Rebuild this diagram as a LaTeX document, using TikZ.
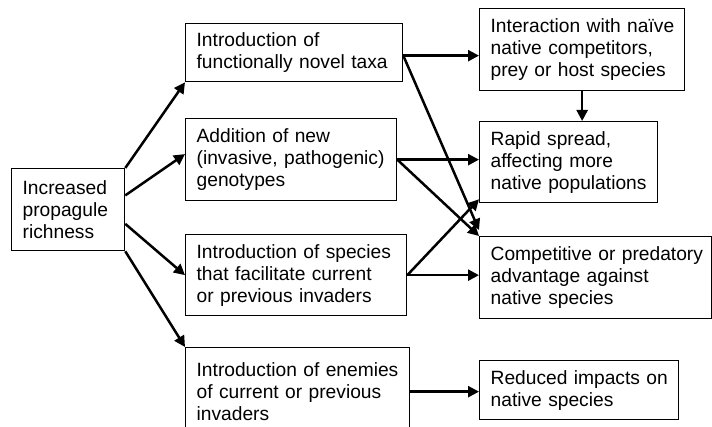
\documentclass[tikz,border=0pt]{standalone}
\usepackage{fontspec}
\setmainfont{Liberation Sans}
\usetikzlibrary{arrows.meta}
\hyphenpenalty=10000
\exhyphenpenalty=10000

\tikzset{
  box/.style={draw,rectangle,line width=1.3pt,anchor=north west,
    inner xsep=11pt,inner ysep=0pt,align=left,
    font=\fontsize{19.2}{22}\selectfont,
    execute at begin node={\rightskip=-20pt plus 1fil}},
  sz/.style 2 args={text width=#1,minimum height=#2},
  arr/.style={line width=2.5pt,-{Triangle[length=11pt,width=11pt]}}
}

\begin{document}
\begin{tikzpicture}[x=1pt,y=-1pt]
      \useasboundingbox (0,0) rectangle (712,427);

      \node [box,sz={91pt}{82pt}] (L) at (11,168) {Increased\\propagule\\richness};

      \node [box,sz={195pt}{58pt}] (T1) at (185,23) {Introduction of\\functionally novel taxa};
      \node [box,sz={189pt}{82pt}] (T2) at (185,118) {Addition of new\\(invasive, pathogenic)\\genotypes};
      \node [box,sz={199pt}{81pt}] (T3) at (185,234) {Introduction of species\\that facilitate current\\or previous invaders};
      \node [box,sz={202pt}{88pt}] (T4) at (185,347) {Introduction of enemies\\of current or previous\\invaders};

      \node [box,sz={183pt}{82pt}] (R1) at (479,8) {Interaction with naïve\\native competitors,\\prey or host species};
      \node [box,sz={156pt}{81pt}] (R2) at (479,121) {Rapid spread,\\affecting more\\native populations};
      \node [box,sz={210pt}{82pt}] (R3) at (479,236) {Competitive or predatory\\advantage against\\native species};
      \node [box,sz={177pt}{59pt}] (R4) at (479,360) {Reduced impacts on\\native species};

      % fan out from propagule richness
      \foreach \from/\to in {L.north east/T1.south west,L.14/T2.177,L.-14/T3.west,L.south east/T4.north west}
        \draw [arr] (\from) -- (\to);

      % horizontal links
      \draw [arr] ([yshift=-3pt]T1.east) -- ([yshift=-3pt]T1.east -| R1.west);
      \draw [arr] (T2.east) -- (T2.east -| R2.west);
      \draw [arr] (T3.east) -- (T3.east -| R3.west);
      \draw [arr] (T4.east) -- (T4.east -| R4.west);
      \draw [arr] (R1.south) -- (R1.south |- R2.north);

      % crossing links
      \draw [arr] ([yshift=-3pt]T1.east) -- ([yshift=6pt]R3.north west);
      \draw [arr] (T2.east) -- (R3.north west);
      \draw [arr] (T3.east) -- ([yshift=4pt]R2.south west);
    \end{tikzpicture}
\end{document}
